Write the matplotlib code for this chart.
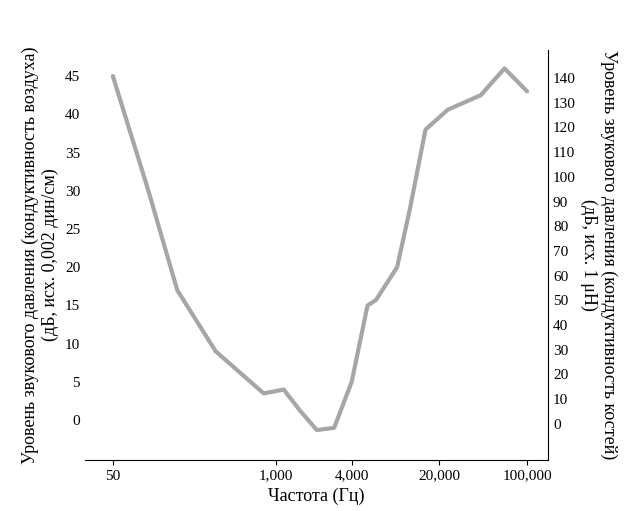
import matplotlib
matplotlib.use("Agg")
import matplotlib.pyplot as plt
from matplotlib.ticker import FixedLocator, FixedFormatter, NullLocator

plt.rcParams['font.family'] = ['Liberation Serif', 'DejaVu Serif']

freq = [50, 96, 163, 330, 796, 1150, 1540, 2110, 2900, 4000, 5350, 6240, 9200, 11600, 15500, 23300, 42700, 66000, 100000]
level = [45, 30, 17, 9, 3.5, 4, 1.3, -1.3, -1, 5, 15, 15.7, 20, 27.5, 38, 40.6, 42.5, 46, 43]
xticks = [50, 1000, 4000, 20000, 100000]
xticklabels = ['50', '1,000', '4,000', '20,000', '100,000']
lticks = [0, 5, 10, 15, 20, 25, 30, 35, 40, 45]
rticks = list(range(0, 141, 10))

fig = plt.figure(figsize=(6.25, 5.11), dpi=100)
ax = fig.add_axes([0.136, 0.1, 0.741, 0.802])
ax.plot(freq, level, color='#a6a6a6', lw=3, solid_capstyle='round')
ax.set_xscale('log')
ax.set_xlim(30, 147000)
ax.set_ylim(-5.2, 48.4)
ax.xaxis.set_major_locator(FixedLocator(xticks))
ax.xaxis.set_major_formatter(FixedFormatter(xticklabels))
ax.xaxis.set_minor_locator(NullLocator())
ax.set_yticks(lticks)
for s in ['top', 'left']:
    ax.spines[s].set_visible(False)
ax.spines['right'].set_visible(False)
ax.tick_params(axis='y', length=0, labelsize=11)
ax.tick_params(axis='x', labelsize=11)
ax.set_xlabel('Частота (Гц)', fontsize=13)
ax.set_ylabel('Уровень звукового давления (кондуктивность воздуха)\n(дБ, исх. 0,002 дин/см)', fontsize=13)

ax2 = ax.twinx()
ax2.set_ylim(-14.6, 151.3)
ax2.set_yticks(rticks)
for s in ['top', 'left', 'bottom']:
    ax2.spines[s].set_visible(False)
ax2.tick_params(axis='y', length=0, labelsize=11)
ax2.set_ylabel('Уровень звукового давления (кондуктивность костей)\n(дБ, исх. 1 μН)', fontsize=13, rotation=-90, labelpad=30)

fig.savefig('out.png', dpi=100)
